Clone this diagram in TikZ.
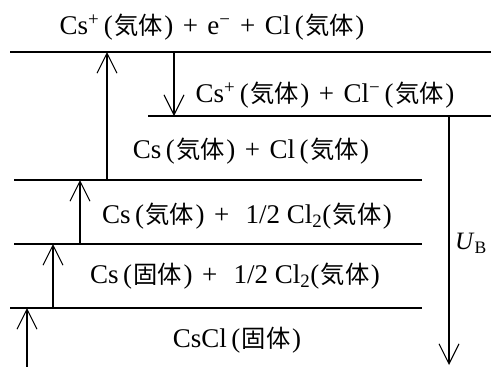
\documentclass[tikz,border=0pt]{standalone}
\usepackage{fontspec}
\setmainfont{Liberation Serif}
\newfontfamily\jp[Scale=0.9]{Noto Sans CJK JP}
\usetikzlibrary{arrows.meta}
\newcommand{\kt}{(\kern1.5pt{\jp 気体}\kern1.5pt)}
\newcommand{\ko}{(\kern1.5pt{\jp 固体}\kern1.5pt)}
\newcommand{\pl}{\hspace{0.35em}+\hspace{0.35em}}
\begin{document}
\begin{tikzpicture}[x=1pt,y=-1pt,
  level/.style={line width=1.8pt},
  trans/.style={line width=1.1pt,-{Straight Barb[length=20pt,width=20pt,line width=1.1pt]}},
  lab/.style={font=\fontsize{27}{30}\selectfont,inner sep=0pt}]
\useasboundingbox (0,0) rectangle (491,367);
% levels
\coordinate (L1a) at (10,52);  \coordinate (L1b) at (491,52);
\coordinate (L2a) at (148,116); \coordinate (L2b) at (491,116);
\coordinate (L3a) at (14,180); \coordinate (L3b) at (422,180);
\coordinate (L4a) at (14,244); \coordinate (L4b) at (422,244);
\coordinate (L5a) at (10,308); \coordinate (L5b) at (422,308);
\draw[level] (L1a) -- (L1b);
\draw[level] (L2a) -- (L2b);
\draw[level] (L3a) -- (L3b);
\draw[level] (L4a) -- (L4b);
\draw[level] (L5a) -- (L5b);
% labels
\node[lab] (t1) at (212,27) {Cs\textsuperscript{+}\,\kt\pl e\textsuperscript{−}\pl Cl\,\kt};
\node[lab] (t2) at (325,95) {Cs\textsuperscript{+}\,\kt\pl Cl\textsuperscript{−}\,\kt};
\node[lab] (t3) at (251,151) {Cs\,\kt\pl Cl\,\kt};
\node[lab] (t4) at (247,216) {Cs\,\kt\pl\ 1/2\ Cl\textsubscript{2}\kt};
\node[lab] (t5) at (235,276) {Cs\,\ko\pl\ 1/2\ Cl\textsubscript{2}\kt};
\node[lab] (t6) at (237,340) {CsCl\,\ko};
\node[lab,font=\fontsize{25}{28}\selectfont] (ub) at (471,243) {\textit{U}\textsubscript{B}};
% arrows
\coordinate (a1s) at (107,180); \coordinate (a1e) at (107,52);
\coordinate (a2s) at (174,52);  \coordinate (a2e) at (174,116);
\coordinate (a3s) at (80,244);  \coordinate (a3e) at (80,180);
\coordinate (a4s) at (53,308);  \coordinate (a4e) at (53,244);
\coordinate (a5s) at (27,367);  \coordinate (a5e) at (27,308);
\coordinate (a6s) at (449,116); \coordinate (a6e) at (449,365);
\draw[trans] (a1s) -- (a1e);
\draw[trans] (a2s) -- (a2e);
\draw[trans] (a3s) -- (a3e);
\draw[trans] (a4s) -- (a4e);
\draw[trans] (a5s) -- (a5e);
\draw[trans] (a6s) -- (a6e);
\end{tikzpicture}
\end{document}
